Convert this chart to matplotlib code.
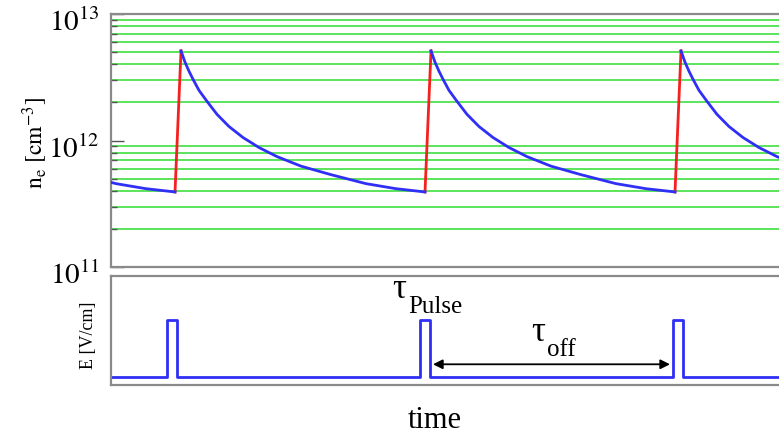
import matplotlib
matplotlib.use("Agg")
import matplotlib.pyplot as plt
import matplotlib.transforms as mtransforms
from matplotlib.ticker import FixedLocator, NullFormatter

# ---- datos (tiempo en unidades arbitrarias) ----
# perfil de decaimiento de n_e despues de cada pulso
decay_dt = [0.0, 0.16, 0.32, 0.48, 0.72, 1.04, 1.44, 1.92, 2.48, 3.12,
            3.84, 4.8, 6.0, 7.4, 8.6, 9.76]
decay_ne = [5.11e12, 4.16e12, 3.53e12, 3.05e12, 2.49e12, 2.04e12, 1.61e12,
            1.29e12, 1.056e12, 8.8e11, 7.46e11, 6.27e11, 5.37e11, 4.56e11,
            4.16e11, 3.92e11]
peaks = [-7.2, 2.8, 12.8, 22.8]      # instantes de maximo de n_e
rise_dur = 0.24                      # duracion de la subida (rojo)

# campo electrico: pulsos rectangulares
pulse_on = [2.24, 12.36, 22.48]
pulse_width = 0.38
E_low, E_high = 0.0, 1.0

# flecha tau_off
arrow_t = [12.88, 22.36]
arrow_y = 0.23

t_max = 26.72
blue = "#2f2ff5"
red = "#f52020"
green = "#5ae45a"
spine_col = "#8a8a8a"

plt.rcParams["font.family"] = ["Liberation Serif", "DejaVu Serif"]
plt.rcParams["mathtext.fontset"] = "stix"

fig = plt.figure(figsize=(7.79, 4.39), dpi=100)
ax1 = fig.add_axes([0.1425, 0.3895, 0.8575, 0.5763])
ax2 = fig.add_axes([0.1425, 0.1196, 0.8575, 0.2494])

# ---- panel superior: densidad electronica ----
for p in peaks[1:]:
    ax1.plot([p - rise_dur, p], [decay_ne[-1], decay_ne[0]], color=red, lw=2, zorder=3)
for p in peaks:
    ax1.plot([p + d for d in decay_dt], decay_ne, color=blue, lw=2, zorder=4)

ax1.set_yscale("log")
ax1.set_ylim(1e11, 1e13)
ax1.set_xlim(0, t_max)
ax1.yaxis.set_major_locator(FixedLocator([1e11, 1e12, 1e13]))
ax1.set_yticklabels([r"$10^{11}$", r"$10^{12}$", r"$10^{13}$"])
ax1.yaxis.set_minor_locator(FixedLocator([k * 10.0 ** e for e in (11, 12) for k in range(2, 10)]))
ax1.yaxis.set_minor_formatter(NullFormatter())
ax1.grid(which="minor", axis="y", color=green, lw=1.4, zorder=1)
ax1.tick_params(axis="y", which="major", direction="in", length=9, width=1,
                color="#555555", labelsize=21, pad=8)
ax1.tick_params(axis="y", which="minor", direction="in", length=4, width=1,
                color="#555555")
ax1.set_xticks([])

# etiquetas un poco mas abajo, como en el original
bajar = mtransforms.ScaledTranslation(0, -0.05, fig.dpi_scale_trans)
for etiqueta in ax1.get_yticklabels():
    etiqueta.set_transform(etiqueta.get_transform() + bajar)

# ---- panel inferior: campo electrico ----
t_E = [0.0]
E = [E_low]
for s in pulse_on:
    t_E += [s, s, s + pulse_width, s + pulse_width]
    E += [E_low, E_high, E_high, E_low]
t_E.append(t_max)
E.append(E_low)
ax2.plot(t_E, E, color=blue, lw=2)
ax2.set_xlim(0, t_max)
ax2.set_ylim(-0.14, 1.77)
ax2.set_xticks([])
ax2.set_yticks([])

ax2.annotate("", xy=(arrow_t[0], arrow_y), xytext=(arrow_t[1], arrow_y),
             arrowprops=dict(arrowstyle="<|-|>", color="black", lw=1.3,
                             mutation_scale=14, shrinkA=0, shrinkB=0))

ax2.text(11.54, 1.55, "τ", fontsize=25, ha="center", va="center")
ax2.text(11.88, 1.14, "Pulse", fontsize=18, ha="left", va="baseline")
ax2.text(17.1, 0.80, "τ", fontsize=25, ha="center", va="center")
ax2.text(17.44, 0.40, "off", fontsize=18, ha="left", va="baseline")

for ax in (ax1, ax2):
    for lado in ("left", "top", "bottom"):
        ax.spines[lado].set_color(spine_col)
        ax.spines[lado].set_linewidth(1.6)
    ax.spines["right"].set_visible(False)

fig.text(0.045, 0.674, r"$\mathrm{n_e\ [cm^{-3}]}$", fontsize=17,
         rotation=90, ha="center", va="center")
fig.text(0.114, 0.237, "E [V/cm]", fontsize=13, rotation=90,
         ha="center", va="center")
fig.text(0.558, 0.025, "time", fontsize=22, ha="center", va="baseline")

fig.savefig("out.png", dpi=100)
